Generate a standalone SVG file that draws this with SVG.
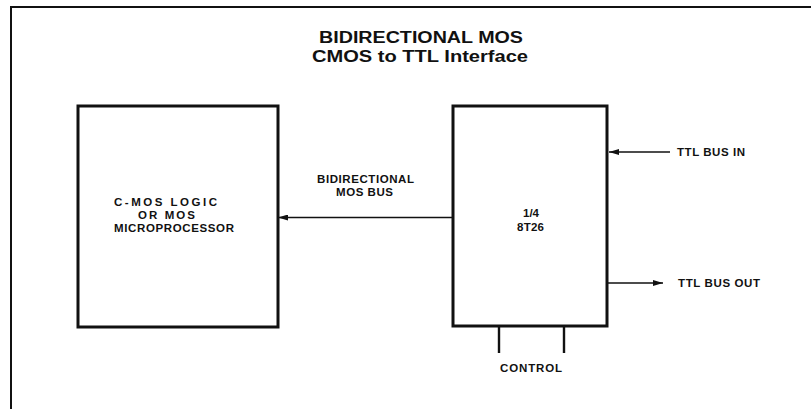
<svg xmlns="http://www.w3.org/2000/svg" width="811" height="409" viewBox="0 0 811 409">
<style>
.frame{fill:none;stroke:#111;stroke-width:2}
.box{fill:#fff;stroke:#111;stroke-width:3}
.wire{fill:none;stroke:#111;stroke-width:1.6}
.ctl{fill:none;stroke:#111;stroke-width:2.4}
.t{font-family:"Liberation Sans",Arial,sans-serif;font-weight:bold;fill:#111}
.title{font-size:16px}
.lbl{font-size:11.5px}
</style>
<defs>
<marker id="ah" viewBox="0 0 10 6" refX="10" refY="3" markerWidth="10" markerHeight="6" markerUnits="userSpaceOnUse" orient="auto">
<path d="M0,0 L10,3 L0,6 z" fill="#111"/>
</marker>
</defs>
<rect width="811" height="409" fill="#fff"/>
<path class="frame" d="M11,409 V7 H811"/>
<g id="title">
<text class="t title" x="319" y="43" textLength="204" lengthAdjust="spacingAndGlyphs">BIDIRECTIONAL MOS</text>
<text class="t title" x="312" y="62" textLength="216" lengthAdjust="spacingAndGlyphs">CMOS to TTL Interface</text>
</g>
<g id="cmos">
<rect class="box" x="78" y="106" width="200" height="221"/>
<text class="t lbl" x="114" y="206" textLength="103">C-MOS LOGIC</text>
<text class="t lbl" x="138" y="219" textLength="57">OR MOS</text>
<text class="t lbl" x="114" y="232" textLength="120">MICROPROCESSOR</text>
</g>
<g id="t8t26">
<rect class="box" x="453" y="106" width="154" height="220"/>
<text class="t lbl" x="523" y="217" textLength="16">1/4</text>
<text class="t lbl" x="517" y="231" textLength="27">8T26</text>
</g>
<g id="connectors">
<line class="wire" x1="453" y1="217.5" x2="278" y2="217.5" marker-end="url(#ah)"/>
<line class="wire" x1="670" y1="152" x2="609" y2="152" marker-end="url(#ah)"/>
<line class="wire" x1="607" y1="283" x2="663" y2="283" marker-end="url(#ah)"/>
<line class="ctl" x1="499" y1="326" x2="499" y2="353"/>
<line class="ctl" x1="564" y1="326" x2="564" y2="353"/>
</g>
<g id="labels">
<text class="t lbl" x="317" y="183" textLength="97">BIDIRECTIONAL</text>
<text class="t lbl" x="336" y="196" textLength="57">MOS BUS</text>
<text class="t lbl" x="677" y="156" textLength="68">TTL BUS IN</text>
<text class="t lbl" x="678" y="287" textLength="82">TTL BUS OUT</text>
<text class="t lbl" x="500" y="372" textLength="62">CONTROL</text>
</g>
</svg>
